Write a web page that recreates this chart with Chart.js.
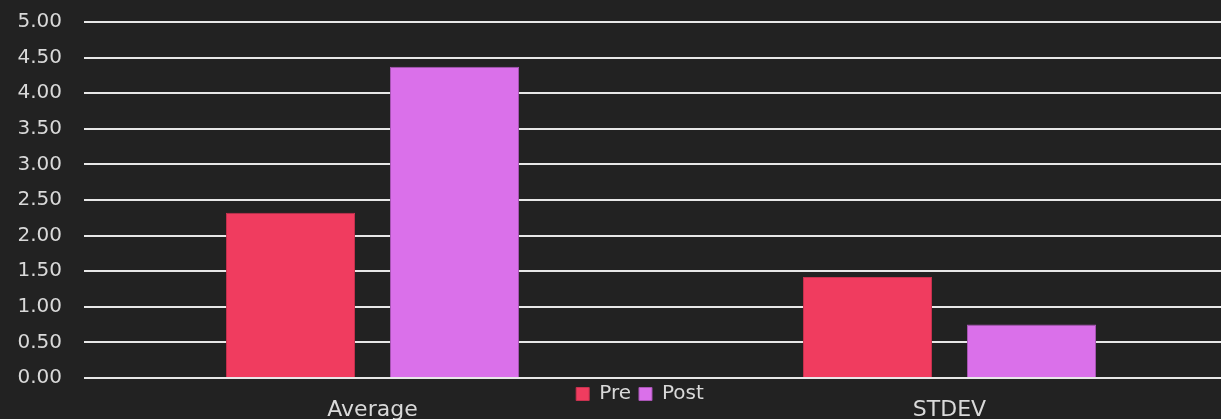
<!DOCTYPE html>
<html>
<head>
<meta charset="utf-8">
<script src="https://cdn.jsdelivr.net/npm/chart.js@4.4.1/dist/chart.umd.min.js"></script>
<style>
  html, body { margin: 0; padding: 0; background: #222222; overflow: hidden; }
  #wrap { width: 1221px; height: 419px; overflow: hidden; }
  #box { width: 1238px; height: 470px; }
</style>
</head>
<body>
<div id="wrap"><div id="box"><canvas id="chart"></canvas></div></div>
<script>
const categories = ["Average", "STDEV"];
const preValues = [2.32, 1.42];
const postValues = [4.37, 0.75];
const yTicks = ["0.00", "0.50", "1.00", "1.50", "2.00", "2.50", "3.00", "3.50", "4.00", "4.50", "5.00"];

const ctx = document.querySelector("#chart").getContext("2d");
const textColor = "#d9d9d9";
const fontFamily = "'Century Gothic', 'DejaVu Sans', sans-serif";

// legend sits between the axis line and the category labels, like the original
const moveLegend = {
  id: "moveLegend",
  afterLayout(chart) {
    const legend = chart.legend;
    const h = legend.height;
    legend.top = chart.chartArea.bottom - 2;
    legend.bottom = legend.top + h;
    legend.left -= 21;
    legend.right -= 21;
  },
};

const myChart = new Chart(ctx, {
  type: "bar",
  data: {
    labels: categories,
    datasets: [
      {
        label: "Pre",
        data: preValues,
        backgroundColor: "#f03c5f",
        borderColor: "#c8324f",
        borderWidth: 1,
        borderSkipped: "bottom",
      },
      {
        label: "Post",
        data: postValues,
        backgroundColor: "#da70ea",
        borderColor: "#a855b5",
        borderWidth: 1,
        borderSkipped: "bottom",
      },
    ],
  },
  plugins: [moveLegend],
  options: {
    responsive: true,
    maintainAspectRatio: false,
    animation: false,
    layout: { padding: { top: 22, right: 0, left: 0, bottom: 0 } },
    datasets: {
      bar: { categoryPercentage: 0.5685, barPercentage: 0.787 },
    },
    plugins: {
      tooltip: { enabled: false },
      legend: {
        position: "bottom",
        fullSize: false,
        labels: {
          color: textColor,
          boxWidth: 13,
          boxHeight: 13,
          padding: 8,
          font: { family: fontFamily, size: 20 },
        },
      },
    },
    scales: {
      x: {
        grid: { display: false },
        border: { display: false },
        afterFit: function (scale) {
          scale.height = 54;
        },
        ticks: {
          color: textColor,
          padding: 11,
          font: { family: fontFamily, size: 22 },
        },
      },
      y: {
        min: 0,
        max: 5,
        afterFit: function (scale) {
          scale.width = 84;
          scale.paddingTop = 0;
          scale.paddingBottom = 0;
        },
        grid: { color: "#e8e8e8", lineWidth: 2, drawTicks: false },
        border: { display: false },
        ticks: {
          stepSize: 0.5,
          padding: 22,
          color: textColor,
          font: { family: fontFamily, size: 20 },
          callback: function (value, index) {
            return yTicks[index];
          },
        },
      },
    },
  },
});
</script>
</body>
</html>
